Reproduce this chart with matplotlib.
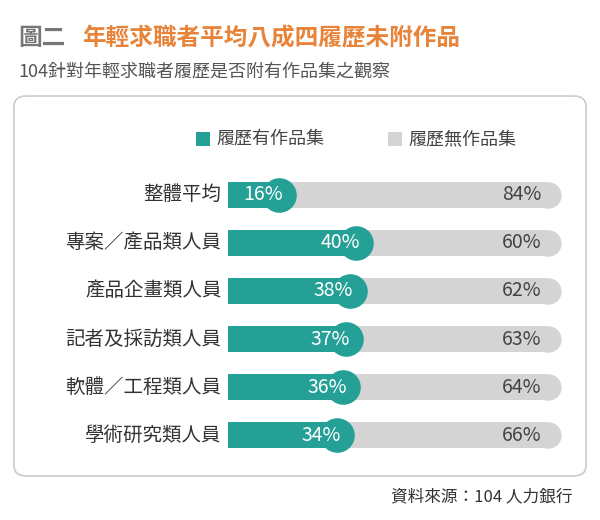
import matplotlib
matplotlib.use("Agg")
import matplotlib.pyplot as plt
from matplotlib.patches import FancyBboxPatch

plt.rcParams["font.family"] = ["Noto Sans CJK TC", "Noto Sans CJK JP", "Noto Sans CJK SC", "Noto Sans CJK KR", "DejaVu Sans"]

categories = ["整體平均", "專案／產品類人員", "產品企畫類人員", "記者及採訪類人員", "軟體／工程類人員", "學術研究類人員"]
with_portfolio = [16, 40, 38, 37, 36, 34]
without_portfolio = [84, 60, 62, 63, 64, 66]
legend_labels = ["履歷有作品集", "履歷無作品集"]

TEAL = "#24a096"
GRAY = "#d4d4d4"
W, H = 600, 520
fig = plt.figure(figsize=(6, 5.2), dpi=100)

def fx(px): return px / W
def fy(py): return 1 - py / H

fig.text(fx(18), fy(38), "圖二", fontsize=17, color="#777777", fontweight="bold", va="center")
fig.text(fx(82), fy(38), "年輕求職者平均八成四履歷未附作品", fontsize=17, color="#e8843a", fontweight="bold", va="center")
fig.text(fx(18), fy(72), "104針對年輕求職者履歷是否附有作品集之觀察", fontsize=13, color="#555555", va="center")

box = FancyBboxPatch((fx(14), fy(476)), fx(572), (476 - 96) / H,
                     boxstyle="round,pad=0,rounding_size=0.02", transform=fig.transFigure,
                     facecolor="white", edgecolor="#cccccc", lw=1.2, zorder=-5)
fig.patches.append(box)

for sx, col, lab in [(196, TEAL, legend_labels[0]), (388, GRAY, legend_labels[1])]:
    fig.patches.append(plt.Rectangle((fx(sx), fy(146)), 14 / W, 14 / H, transform=fig.transFigure,
                                     facecolor=col, edgecolor="none"))
    fig.text(fx(sx + 20), fy(139), lab, fontsize=13, color="#444444", va="center")

ax = fig.add_axes([fx(228), fy(460), 320 / W, 290 / H], zorder=5)
ax.set_xlim(0, 100)
ax.set_ylim(len(categories) - 0.48, -0.52)
ax.axis("off")

ys = list(range(len(categories)))
ax.barh(ys, [100] * len(ys), height=0.54, color=GRAY, zorder=1)
ax.scatter([100] * len(ys), ys, s=360, color=GRAY, zorder=1, linewidths=0, clip_on=False)
ax.barh(ys, with_portfolio, height=0.54, color=TEAL, zorder=2)
ax.scatter(with_portfolio, ys, s=620, color=TEAL, zorder=3, linewidths=0, clip_on=False)

for y, cat, a, b in zip(ys, categories, with_portfolio, without_portfolio):
    ax.text(-2, y, cat, ha="right", va="center", fontsize=14, color="#333333", clip_on=False)
    ax.text(a - 5, y, f"{a}%", ha="center", va="center", fontsize=14, color="white", zorder=4)
    ax.text(98, y, f"{b}%", ha="right", va="center", fontsize=14, color="#444444", zorder=4)

fig.text(fx(572), fy(497), "資料來源：104 人力銀行", fontsize=12, color="#333333", ha="right", va="center")

fig.savefig("out.png", dpi=100)
